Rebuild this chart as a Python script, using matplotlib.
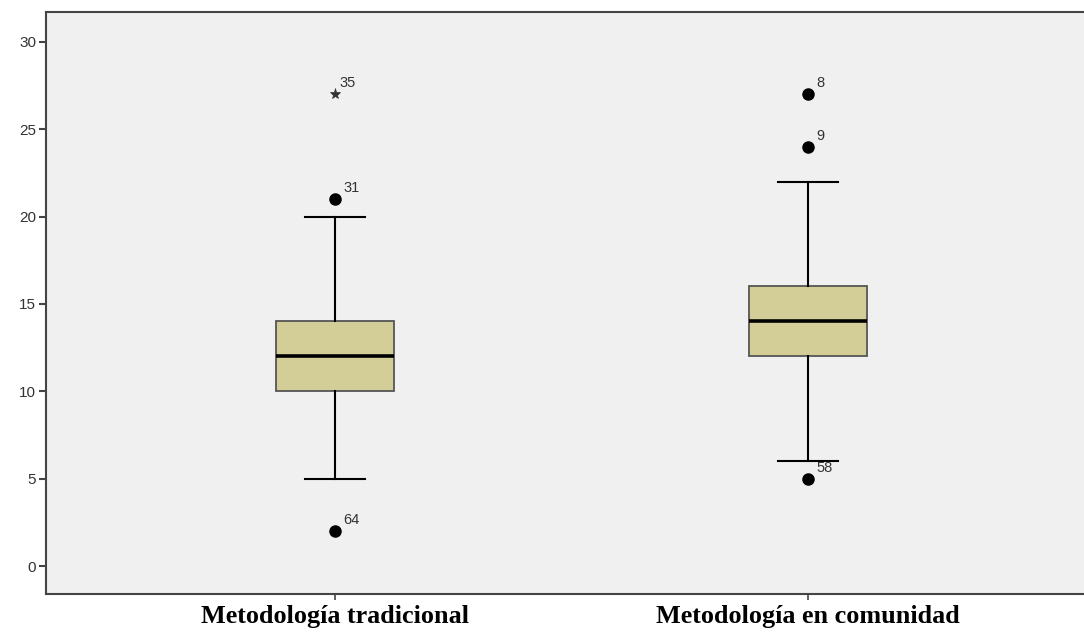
import matplotlib
matplotlib.use("Agg")
import matplotlib.pyplot as plt

# groups and box statistics
groups = ["Metodología tradicional", "Metodología en comunidad"]
q1 = [10, 12]
medians = [12, 14]
q3 = [14, 16]
whislo = [5, 6]
whishi = [20, 22]

# outliers (circles) and extremes (stars) with case labels
outlier_vals = [[21, 2], [27, 24, 5]]
outlier_ids = [["31", "64"], ["8", "9", "58"]]
extreme_vals = [[27], []]
extreme_ids = [["35"], []]

yticks = [0, 5, 10, 15, 20, 25, 30]

fig = plt.figure(figsize=(10.84, 6.39), dpi=100)
ax = fig.add_axes([0.0424, 0.0704, 0.9576, 0.9106])
ax.set_facecolor("#F0F0F0")

stats = []
for i, g in enumerate(groups):
    stats.append({
        "label": g, "med": medians[i], "q1": q1[i], "q3": q3[i],
        "whislo": whislo[i], "whishi": whishi[i], "fliers": outlier_vals[i],
    })

pos = [1, 2]
ax.bxp(stats, positions=pos, widths=0.25, patch_artist=True,
       boxprops=dict(facecolor="#D3CE97", edgecolor="#555555", linewidth=1.3),
       medianprops=dict(color="black", linewidth=2.6),
       whiskerprops=dict(color="black", linewidth=1.5),
       capprops=dict(color="black", linewidth=1.5),
       capwidths=0.127,
       flierprops=dict(marker="o", markerfacecolor="black", markeredgecolor="black",
                       markersize=8, linestyle="none"))

for i, p in enumerate(pos):
    for v, lab in zip(outlier_vals[i], outlier_ids[i]):
        ax.annotate(lab, (p, v), xytext=(6, 3), textcoords="offset points",
                    fontsize=10.5, color="#333333", va="bottom", ha="left",
                    family="Liberation Sans")
    for v, lab in zip(extreme_vals[i], extreme_ids[i]):
        ax.plot([p], [v], marker="*", color="#333333", markersize=8,
                markeredgewidth=0.5, linestyle="none")
        ax.annotate(lab, (p, v), xytext=(3, 3), textcoords="offset points",
                    fontsize=10.5, color="#333333", va="bottom", ha="left",
                    family="Liberation Sans")

ax.set_xlim(0.389, 2.583)
ax.set_ylim(-1.6, 31.7)
ax.set_yticks(yticks)
ax.set_yticklabels([str(t) for t in yticks], fontsize=11, color="#333333",
                   family="Liberation Sans")
ax.set_xticks(pos)
ax.set_xticklabels(groups, fontsize=18.8, fontweight="bold",
                   family="Liberation Serif", color="black")
ax.tick_params(axis="y", length=5, width=1.5, color="#444444", pad=2)
ax.tick_params(axis="x", length=4, width=1.2, color="#444444", pad=4)

for s in ["left", "top", "bottom"]:
    ax.spines[s].set_color("#444444")
    ax.spines[s].set_linewidth(1.5)
ax.spines["right"].set_visible(False)

fig.savefig("out.png", dpi=100)
